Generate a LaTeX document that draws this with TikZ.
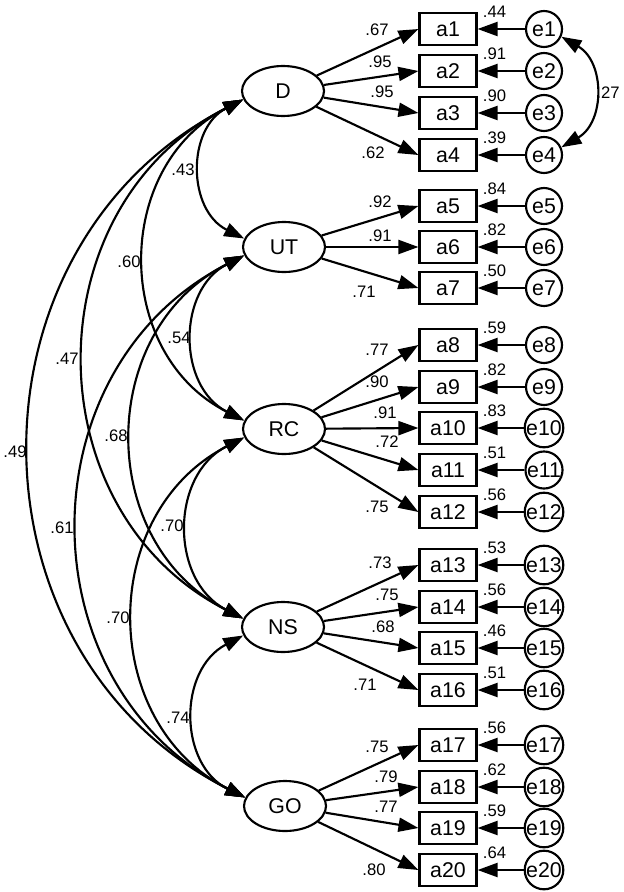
\documentclass[tikz,border=0pt]{standalone}
\usepackage{fontspec}
\setmainfont{Liberation Sans}
\usetikzlibrary{arrows.meta, shapes.geometric, calc}

\begin{document}
\begin{tikzpicture}[x=0.75pt, y=0.75pt, line width=1.6pt,
  >={Triangle[length=15pt, width=10.5pt]},
  latent/.style={draw, ellipse, minimum width=61.5pt, minimum height=37.5pt, inner sep=0pt, font=\fontsize{16}{18}\selectfont},
  item/.style={draw, rectangle, minimum width=42.75pt, minimum height=24pt, inner sep=0pt, font=\fontsize{16}{18}\selectfont},
  err/.style={draw, circle, minimum size=27pt, inner sep=0pt, font=\fontsize{16}{18}\selectfont},
  coef/.style={inner sep=0pt, font=\fontsize{12.5}{14}\selectfont},
  load/.style={->},
  cov/.style={<->, bend right=63, looseness=1.17}]
\useasboundingbox (0,0) rectangle (624,-892);

% Latent factors
\node[latent] (D) at (283,-91) {D};
\node[latent] (UT) at (284,-247) {UT};
\node[latent] (RC) at (284,-429) {RC};
\node[latent] (NS) at (283,-627) {NS};
\node[latent] (GO) at (285,-806) {GO};

% Indicators, error terms and loadings
\foreach \i/\y/\f/\l/\lx/\ly/\r in {
  1/29/D/.67/377/30/.44, 2/71/D/.95/380/62/.91, 3/113/D/.95/382/92/.90, 4/155/D/.62/373/153/.39,
  5/206/UT/.92/380/202/.84, 6/247/UT/.91/380/236/.82, 7/288/UT/.71/364/292/.50,
  8/345/RC/.77/377/350/.59, 9/387/RC/.90/377/382/.82, 10/428/RC/.91/385/413/.83,
  11/470/RC/.72/387/442/.51, 12/512/RC/.75/377/507/.56,
  13/565/NS/.73/380/563/.53, 14/607/NS/.75/387/595/.56, 15/648/NS/.68/383/627/.46, 16/690/NS/.71/365/685/.51,
  17/745/GO/.75/377/747/.56, 18/787/GO/.79/386/777/.62, 19/828/GO/.77/386/807/.59, 20/870/GO/.80/374/870/.64} {
  \node[item] (a\i) at (448,-\y) {a\i};
  \node[err] (e\i) at (544,-\y) {e\i};
  \draw[load] (\f) -- (a\i.west);
  \draw[load] (e\i) -- (a\i.east);
  \node[coef] (l\i) at (\lx,-\ly) {\l};
  \node[coef] (r\i) at ($(a\i.east)+(17,17)$) {\r};
}

% Error covariance
\draw[<->, bend left=60, looseness=1.17] (e1.-24) to (e4.24);
\node[coef] (c27) at (608,-93) {.27};

% Factor covariances
\draw[cov] (D.192) to (UT.168);
\draw[cov] (D.192) to (RC.168);
\draw[cov] (D.192) to (NS.168);
\draw[cov] (D.192) to (GO.168);
\draw[cov] (UT.192) to (RC.168);
\draw[cov] (UT.192) to (NS.168);
\draw[cov] (UT.192) to (GO.168);
\draw[cov] (RC.192) to (NS.168);
\draw[cov] (RC.192) to (GO.168);
\draw[cov] (NS.192) to (GO.168);

\node[coef] (c43) at (183,-170) {.43};
\node[coef] (c60) at (129,-262) {.60};
\node[coef] (c47) at (67,-359) {.47};
\node[coef] (c49) at (15,-452) {.49};
\node[coef] (c54) at (179,-338) {.54};
\node[coef] (c68) at (116,-436) {.68};
\node[coef] (c61) at (62,-528) {.61};
\node[coef] (c70a) at (172,-526) {.70};
\node[coef] (c70b) at (118,-618) {.70};
\node[coef] (c74) at (178,-718) {.74};

\end{tikzpicture}
\end{document}
